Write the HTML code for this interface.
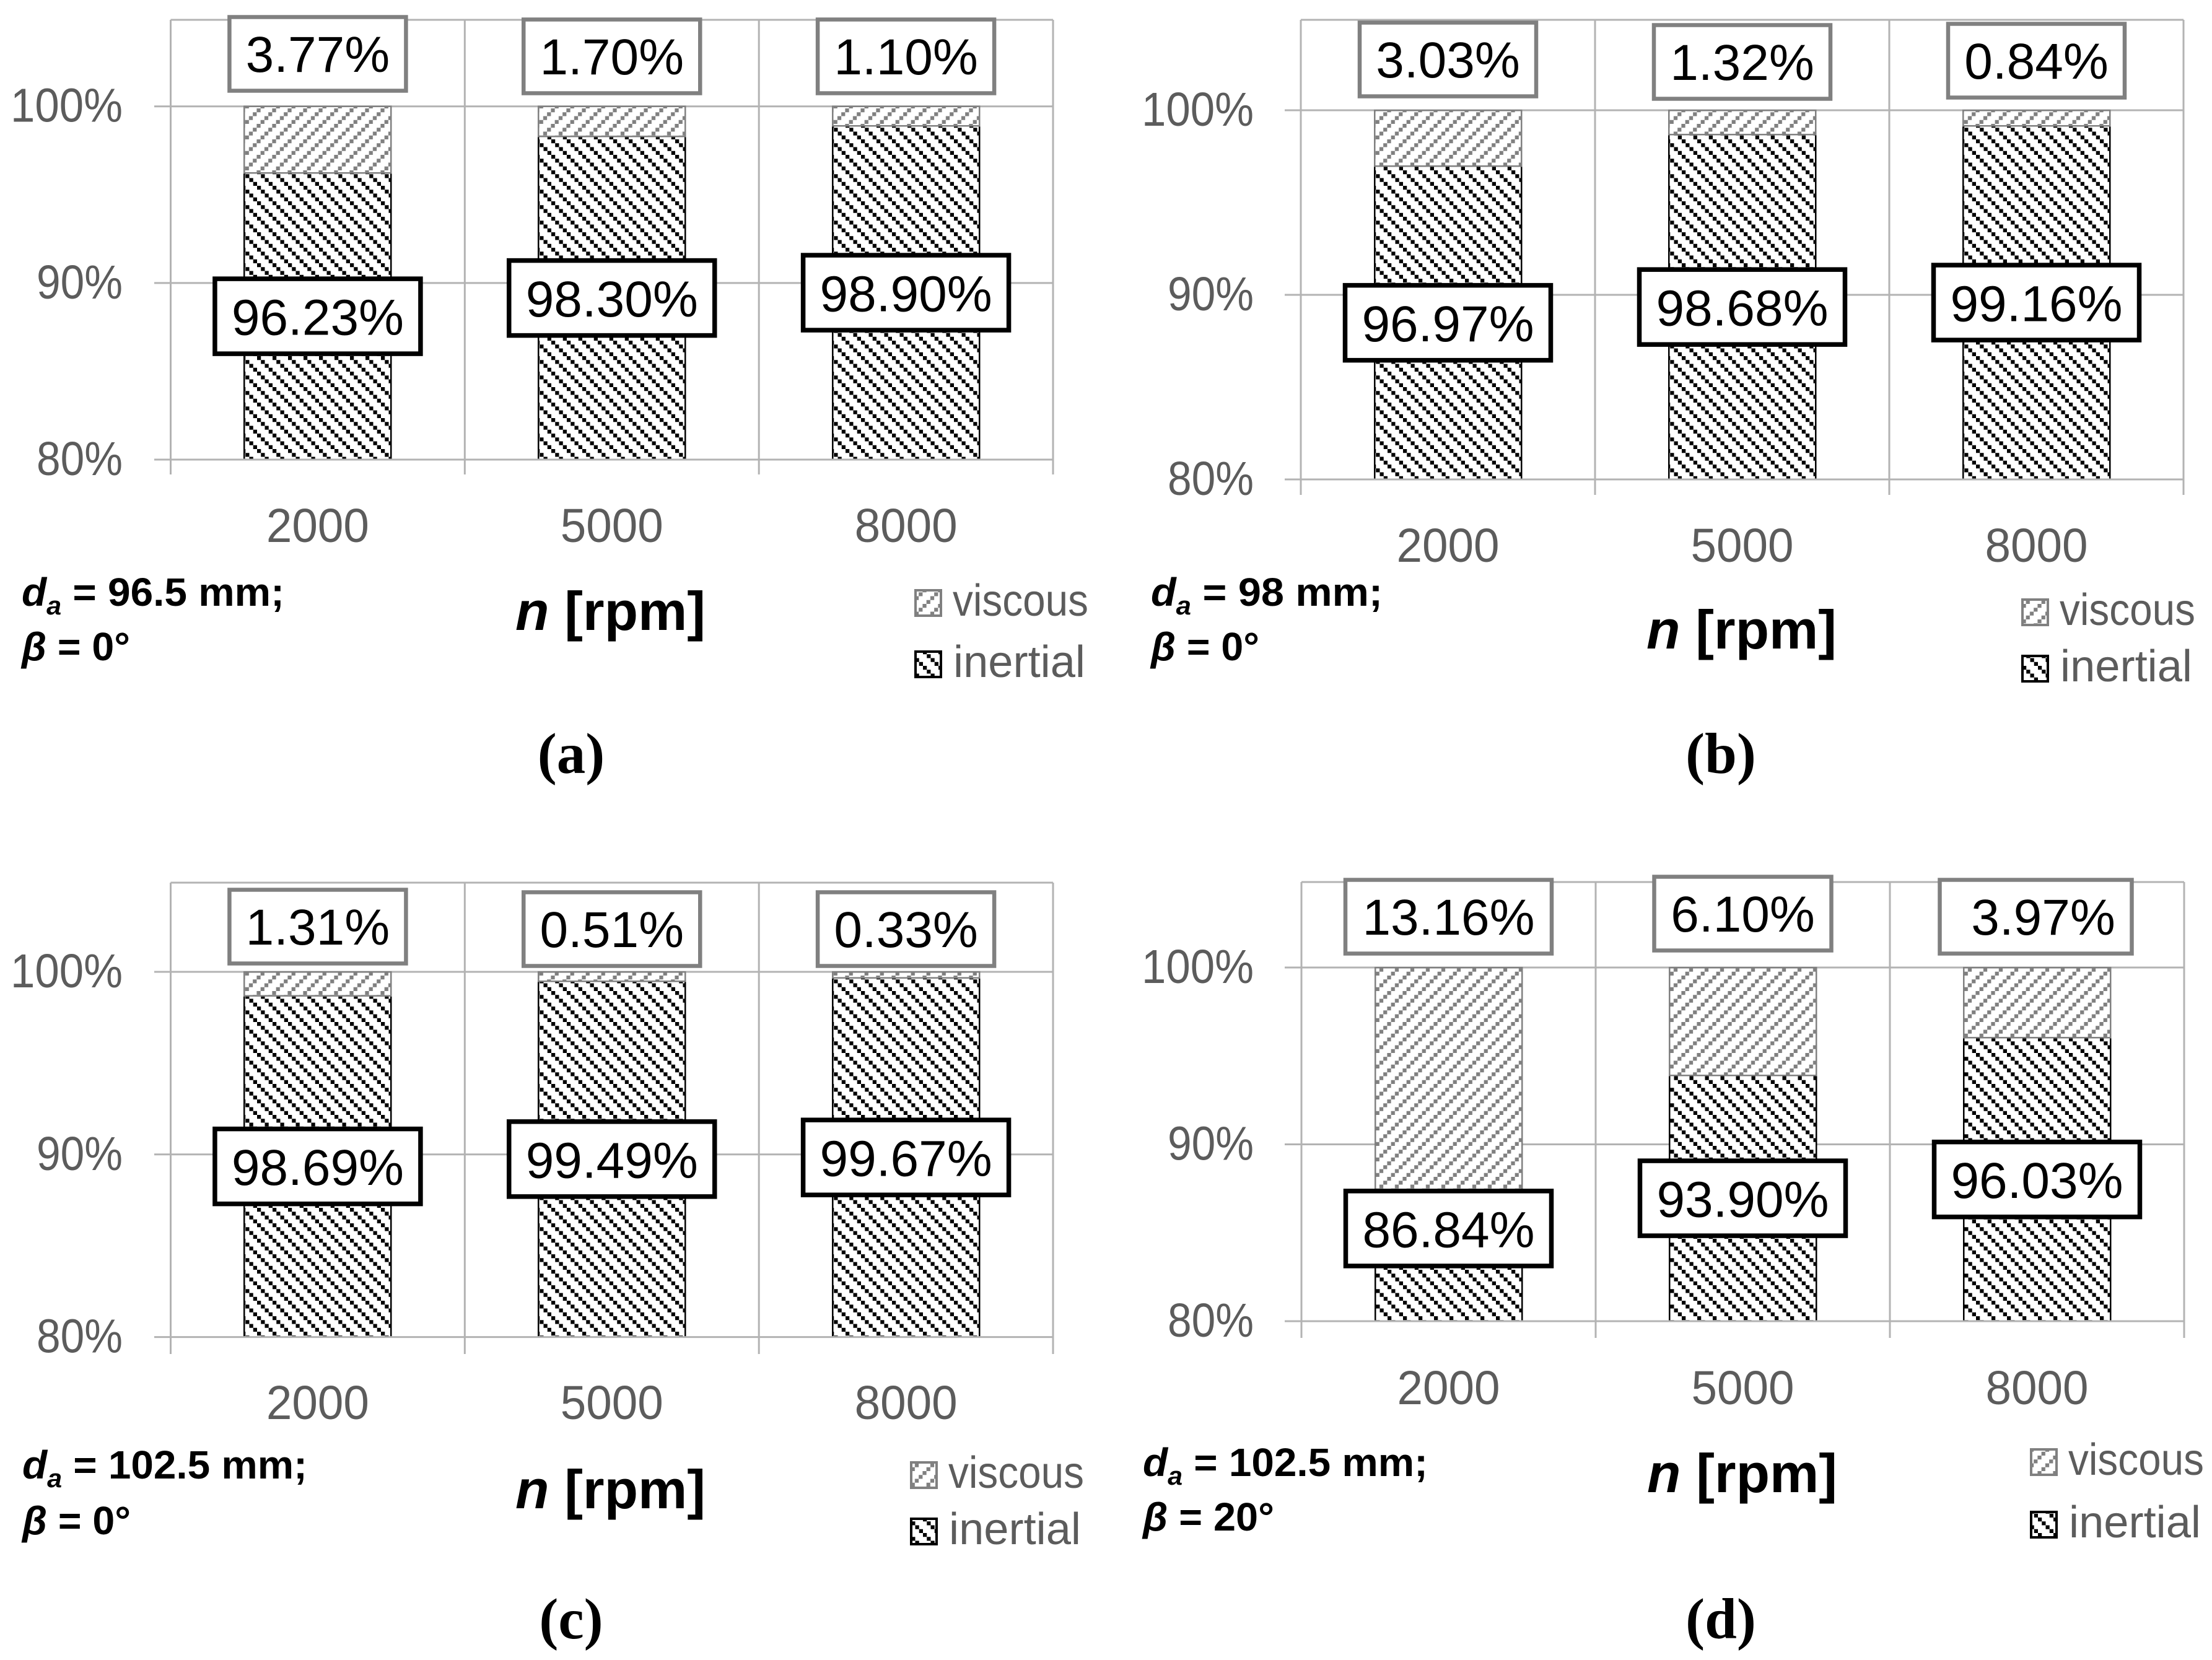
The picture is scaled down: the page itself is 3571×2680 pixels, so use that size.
<!DOCTYPE html>
<html lang="en">
<head>
<meta charset="utf-8">
<title>Viscous and inertial loss shares</title>
<style>
html,body{margin:0;padding:0;background:#fff}
body{width:3571px;height:2680px;overflow:hidden}
svg{display:block}
.tick{font-family:"Liberation Sans",sans-serif;font-size:77px;fill:#5c5c5c}
.val{font-family:"Liberation Sans",sans-serif;font-size:82px;fill:#000}
.note{font-family:"Liberation Sans",sans-serif;font-size:64px;font-weight:700;fill:#000}
.axis{font-family:"Liberation Sans",sans-serif;font-size:88px;font-weight:700;fill:#000}
.cap{font-family:"Liberation Serif",serif;font-size:93px;font-weight:700;fill:#000}
.leg{font-family:"Liberation Sans",sans-serif;font-size:72px;fill:#5c5c5c}
</style>
</head>
<body>
<svg id="fig" xmlns="http://www.w3.org/2000/svg" width="3571" height="2680" viewBox="0 0 3571 2680">
<defs>
<pattern id="hatch-viscous" patternUnits="userSpaceOnUse" patternTransform="translate(-4.35,0)" width="25" height="25">
<rect width="25" height="25" fill="#fff"/>
<rect x="0" y="18.75" width="6.25" height="6.25" fill="#808080"/>
<rect x="6.25" y="12.5" width="6.25" height="6.25" fill="#808080"/>
<rect x="12.5" y="6.25" width="6.25" height="6.25" fill="#808080"/>
<rect x="18.75" y="0" width="6.25" height="6.25" fill="#808080"/>
</pattern>
<pattern id="hatch-inertial" patternUnits="userSpaceOnUse" patternTransform="translate(15,0)" width="25" height="25">
<rect width="25" height="25" fill="#fff"/>
<rect x="0" y="0" width="6.25" height="6.25" fill="#000"/>
<rect x="6.25" y="6.25" width="6.25" height="6.25" fill="#000"/>
<rect x="12.5" y="12.5" width="6.25" height="6.25" fill="#000"/>
<rect x="18.75" y="18.75" width="6.25" height="6.25" fill="#000"/>
</pattern>
</defs>
</svg>
<script>
const categories = ['2000', '5000', '8000'];
const yTicks = [80, 90, 100];
const axisMin = 80;
const viscousA = [3.77, 1.70, 1.10];
const inertialA = [96.23, 98.30, 98.90];
const viscousB = [3.03, 1.32, 0.84];
const inertialB = [96.97, 98.68, 99.16];
const viscousC = [1.31, 0.51, 0.33];
const inertialC = [98.69, 99.49, 99.67];
const viscousD = [13.16, 6.10, 3.97];
const inertialD = [86.84, 93.90, 96.03];

const NS = 'http://www.w3.org/2000/svg';
const fig = document.getElementById('fig');
const gridColor = '#b3b3b3';

function make(parent, tag, attrs, text) {
  const el = document.createElementNS(NS, tag);
  for (const k in attrs) el.setAttribute(k, attrs[k]);
  if (text !== undefined) el.textContent = text;
  parent.appendChild(el);
  return el;
}

function drawPanel(p) {
  const g = make(fig, 'g', {});
  
  

  const y = v => p.y100 + (100 - v) * (p.y80 - p.y100) / (100 - axisMin);
  const catW = (p.x1 - p.x0) / categories.length;
  const cx = i => p.x0 + catW * (i + 0.5);
  const barW = 237;

  // horizontal gridlines (the axis baseline is drawn after the bars)
  yTicks.forEach(t => {
    if (t !== axisMin) {
      const line = make(g, 'line', {x1: p.tickLeft, x2: p.x1, y1: y(t), y2: y(t), stroke: gridColor, 'stroke-width': 3});
      
      
    }
    const lab = make(g, 'text', {x: p.yLabelRight, y: y(t) + 25, 'text-anchor': 'end', class: 'tick', textLength: t === 100 ? 181 : 139, lengthAdjust: 'spacingAndGlyphs'}, t + '%');
    
    
  });
  const topLine = make(g, 'line', {x1: p.x0, x2: p.x1, y1: p.top, y2: p.top, stroke: gridColor, 'stroke-width': 3});
  
  

  // vertical dividers
  for (let i = 0; i <= categories.length; i++) {
    const xv = p.x0 + catW * i;
    const line = make(g, 'line', {x1: xv, x2: xv, y1: p.top, y2: p.tickBottom, stroke: gridColor, 'stroke-width': 3});
    
    
  }

  // bars
  categories.forEach((c, i) => {
    const iv = p.inertial[i];
    const vv = p.viscous[i];
    const x = cx(i) - barW / 2;
    const inertial = make(g, 'rect', {x: x, y: y(iv), width: barW, height: y(axisMin) - y(iv), fill: 'url(#hatch-inertial)', stroke: '#000', 'stroke-width': 2.5, 'shape-rendering': 'crispEdges'});
    
    
    const viscous = make(g, 'rect', {x: x, y: y(iv + vv), width: barW, height: y(iv) - y(iv + vv), fill: 'url(#hatch-viscous)', stroke: '#808080', 'stroke-width': 2.5, 'shape-rendering': 'crispEdges'});
    
    

    const tickLab = make(g, 'text', {x: cx(i), y: p.catBaseline, 'text-anchor': 'middle', class: 'tick', textLength: 166, lengthAdjust: 'spacingAndGlyphs'}, c);
    
    
  });

  const baseLine = make(g, 'line', {x1: p.tickLeft, x2: p.x1, y1: y(axisMin), y2: y(axisMin), stroke: gridColor, 'stroke-width': 3});
  
  

  // value labels
  categories.forEach((c, i) => {
    const iv = p.inertial[i];
    const vv = p.viscous[i];
    const layoutV = p.viscousBoxes[i];
    const bxV = make(g, 'rect', {x: cx(i) + layoutV.dx - layoutV.w / 2, y: layoutV.cy - 59.5, width: layoutV.w, height: 119, fill: '#fff', stroke: '#808080', 'stroke-width': 6.5});
    
    
    const txV = make(g, 'text', {x: cx(i) + layoutV.dx + (layoutV.tdx || 0), y: layoutV.cy + 29, 'text-anchor': 'middle', class: 'val'}, vv.toFixed(2) + '%');
    
    

    const shift = p.inertialShift ? p.inertialShift[i] : 0;
    const cyI = y((axisMin + iv) / 2) + shift;
    const bxI = make(g, 'rect', {x: cx(i) - 166, y: cyI - 60.5, width: 332, height: 121, fill: '#fff', stroke: '#000', 'stroke-width': 7.5});
    
    
    const txI = make(g, 'text', {x: cx(i), y: cyI + 30, 'text-anchor': 'middle', class: 'val'}, iv.toFixed(2) + '%');
    
    
  });

  // operating-point note
  const n1 = make(g, 'text', {x: p.noteX, y: p.note1Y, class: 'note', textLength: p.note1W, lengthAdjust: 'spacingAndGlyphs'});
  
  
  make(n1, 'tspan', {'font-style': 'italic'}, 'd');
  make(n1, 'tspan', {'font-style': 'italic', 'font-size': 42, dy: 14}, 'a');
  make(n1, 'tspan', {dy: -14}, ' = ' + p.diameter + ' mm;');
  const n2 = make(g, 'text', {x: p.noteX, y: p.note2Y, class: 'note', textLength: p.note2W, lengthAdjust: 'spacingAndGlyphs'});
  
  
  make(n2, 'tspan', {'font-style': 'italic'}, 'β');
  make(n2, 'tspan', {}, ' = ' + p.angle + '°');

  // axis title
  const at = make(g, 'text', {x: p.axisX, y: p.axisY, class: 'axis', textLength: 307, lengthAdjust: 'spacingAndGlyphs'});
  
  
  make(at, 'tspan', {'font-style': 'italic'}, 'n');
  make(at, 'tspan', {}, ' [rpm]');

  // legend
  const s1 = make(g, 'rect', {x: p.legX + 2, y: p.legY1 - 41, width: 41, height: 41, fill: 'url(#hatch-viscous)', stroke: '#808080', 'stroke-width': 4, 'shape-rendering': 'crispEdges'});
  
  
  const t1 = make(g, 'text', {x: p.legX + 62, y: p.legY1, class: 'leg', textLength: 219, lengthAdjust: 'spacingAndGlyphs'}, 'viscous');
  
  
  const s2 = make(g, 'rect', {x: p.legX + 2, y: p.legY2 - 41, width: 41, height: 41, fill: 'url(#hatch-inertial)', stroke: '#000', 'stroke-width': 4, 'shape-rendering': 'crispEdges'});
  
  
  const t2 = make(g, 'text', {x: p.legX + 63, y: p.legY2, class: 'leg', textLength: 213, lengthAdjust: 'spacingAndGlyphs'}, 'inertial');
  
  

  // caption
  const cap = make(g, 'text', {x: p.capX, y: p.capY, 'text-anchor': 'middle', class: 'cap'}, '(' + p.id + ')');
  
  
}

drawPanel({id: 'a', viscous: viscousA, inertial: inertialA, diameter: '96.5', angle: '0',
  x0: 275.5, x1: 1700, y100: 171.7, y80: 742, top: 32, tickLeft: 249, tickBottom: 766, yLabelRight: 198, catBaseline: 875,
  viscousBoxes: [{dx: 0, w: 285, cy: 87}, {dx: 0, w: 285, cy: 91}, {dx: 0, w: 285, cy: 91}],
  noteX: 35, note1Y: 978, note2Y: 1066, note1W: 424, note2W: 175, axisX: 832, axisY: 1017,
  legX: 1476, legY1: 994, legY2: 1093, capX: 922, capY: 1248});
drawPanel({id: 'b', viscous: viscousB, inertial: inertialB, diameter: '98', angle: '0',
  x0: 2100, x1: 3525, y100: 178, y80: 774, top: 32, tickLeft: 2074, tickBottom: 799, yLabelRight: 2024, catBaseline: 907,
  viscousBoxes: [{dx: 0, w: 285, cy: 96}, {dx: 0, w: 285, cy: 100}, {dx: 0, w: 285, cy: 98}],
  noteX: 1858, note1Y: 978, note2Y: 1066, note1W: 374, note2W: 175, axisX: 2658, axisY: 1047,
  legX: 3263, legY1: 1009, legY2: 1100, capX: 2778, capY: 1248});
drawPanel({id: 'c', viscous: viscousC, inertial: inertialC, diameter: '102.5', angle: '0',
  x0: 275.5, x1: 1700, y100: 1569, y80: 2158.6, top: 1425, tickLeft: 249, tickBottom: 2186, yLabelRight: 198, catBaseline: 2291,
  viscousBoxes: [{dx: 0, w: 285, cy: 1496}, {dx: 0, w: 285, cy: 1500}, {dx: 0, w: 285, cy: 1500}],
  noteX: 36, note1Y: 2387, note2Y: 2477, note1W: 460, note2W: 175, axisX: 832, axisY: 2435,
  legX: 1469, legY1: 2402, legY2: 2493, capX: 922, capY: 2645});
drawPanel({id: 'd', viscous: viscousD, inertial: inertialD, diameter: '102.5', angle: '20',
  x0: 2101, x1: 3526, y100: 1562, y80: 2133, top: 1424, tickLeft: 2074, tickBottom: 2160, yLabelRight: 2024, catBaseline: 2267,
  inertialShift: [-52, 0, 0],
  viscousBoxes: [{dx: 0, w: 333, cy: 1480}, {dx: 0, w: 286, cy: 1475}, {dx: -2, w: 310, cy: 1480, tdx: 12}],
  noteX: 1845, note1Y: 2383, note2Y: 2471, note1W: 460, note2W: 212, axisX: 2659, axisY: 2409,
  legX: 3277, legY1: 2381, legY2: 2482, capX: 2778, capY: 2645});
</script>
</body>
</html>
